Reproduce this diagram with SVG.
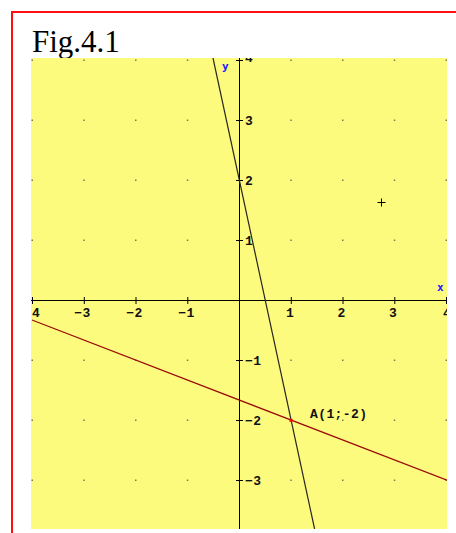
<svg xmlns="http://www.w3.org/2000/svg" width="456" height="533" viewBox="0 0 456 533">
<style>
.dot{fill:#7a7a5a}
.ax{stroke:#000;stroke-width:1;fill:none}
.lbl{font-family:"Liberation Mono","DejaVu Sans Mono",monospace;font-weight:bold;font-size:13px;fill:#111;letter-spacing:0.4px}
.axn{font-family:"DejaVu Sans Mono","Liberation Mono",monospace;font-weight:bold;font-size:11px;fill:#1a1aff}
</style>
<defs>
<clipPath id="plot"><rect x="31" y="58" width="416" height="471"/></clipPath>
</defs>
<rect width="456" height="533" fill="#fff"/>
<g id="frame">
<line x1="11" y1="12" x2="456" y2="12" stroke="#ff1010" stroke-width="2"/>
<line x1="12" y1="11" x2="12" y2="533" stroke="#ff1010" stroke-width="2"/>
</g>
<text id="title" x="32" y="52" font-family="Liberation Serif, serif" font-size="31" fill="#000">Fig.4.1</text>
<g id="plotarea" clip-path="url(#plot)">
<rect x="31" y="58" width="416" height="471" fill="#fdfb7d"/>
<g id="grid">
<g class="dot">
<rect x="31.5" y="59.5" width="1.5" height="1.5"/><rect x="83.3" y="59.5" width="1.5" height="1.5"/><rect x="135" y="59.5" width="1.5" height="1.5"/><rect x="186.8" y="59.5" width="1.5" height="1.5"/><rect x="290.3" y="59.5" width="1.5" height="1.5"/><rect x="342" y="59.5" width="1.5" height="1.5"/><rect x="393.8" y="59.5" width="1.5" height="1.5"/><rect x="445.5" y="59.5" width="1.5" height="1.5"/>
<rect x="31.5" y="119.5" width="1.5" height="1.5"/><rect x="83.3" y="119.5" width="1.5" height="1.5"/><rect x="135" y="119.5" width="1.5" height="1.5"/><rect x="186.8" y="119.5" width="1.5" height="1.5"/><rect x="290.3" y="119.5" width="1.5" height="1.5"/><rect x="342" y="119.5" width="1.5" height="1.5"/><rect x="393.8" y="119.5" width="1.5" height="1.5"/><rect x="445.5" y="119.5" width="1.5" height="1.5"/>
<rect x="31.5" y="179.5" width="1.5" height="1.5"/><rect x="83.3" y="179.5" width="1.5" height="1.5"/><rect x="135" y="179.5" width="1.5" height="1.5"/><rect x="186.8" y="179.5" width="1.5" height="1.5"/><rect x="290.3" y="179.5" width="1.5" height="1.5"/><rect x="342" y="179.5" width="1.5" height="1.5"/><rect x="393.8" y="179.5" width="1.5" height="1.5"/><rect x="445.5" y="179.5" width="1.5" height="1.5"/>
<rect x="31.5" y="239.5" width="1.5" height="1.5"/><rect x="83.3" y="239.5" width="1.5" height="1.5"/><rect x="135" y="239.5" width="1.5" height="1.5"/><rect x="186.8" y="239.5" width="1.5" height="1.5"/><rect x="290.3" y="239.5" width="1.5" height="1.5"/><rect x="342" y="239.5" width="1.5" height="1.5"/><rect x="393.8" y="239.5" width="1.5" height="1.5"/><rect x="445.5" y="239.5" width="1.5" height="1.5"/>
<rect x="31.5" y="359.5" width="1.5" height="1.5"/><rect x="83.3" y="359.5" width="1.5" height="1.5"/><rect x="135" y="359.5" width="1.5" height="1.5"/><rect x="186.8" y="359.5" width="1.5" height="1.5"/><rect x="290.3" y="359.5" width="1.5" height="1.5"/><rect x="342" y="359.5" width="1.5" height="1.5"/><rect x="393.8" y="359.5" width="1.5" height="1.5"/><rect x="445.5" y="359.5" width="1.5" height="1.5"/>
<rect x="31.5" y="419.5" width="1.5" height="1.5"/><rect x="83.3" y="419.5" width="1.5" height="1.5"/><rect x="135" y="419.5" width="1.5" height="1.5"/><rect x="186.8" y="419.5" width="1.5" height="1.5"/><rect x="342" y="419.5" width="1.5" height="1.5"/><rect x="393.8" y="419.5" width="1.5" height="1.5"/><rect x="445.5" y="419.5" width="1.5" height="1.5"/>
<rect x="31.5" y="479.5" width="1.5" height="1.5"/><rect x="83.3" y="479.5" width="1.5" height="1.5"/><rect x="135" y="479.5" width="1.5" height="1.5"/><rect x="186.8" y="479.5" width="1.5" height="1.5"/><rect x="290.3" y="479.5" width="1.5" height="1.5"/><rect x="342" y="479.5" width="1.5" height="1.5"/><rect x="393.8" y="479.5" width="1.5" height="1.5"/><rect x="445.5" y="479.5" width="1.5" height="1.5"/>
</g>
</g>
<g id="axes">
<line class="ax" x1="31" y1="300.5" x2="447" y2="300.5"/>
<line class="ax" x1="239.5" y1="58" x2="239.5" y2="529"/>
<path class="ax" d="M32.5 297v7M84.3 297v7M136 297v7M187.8 297v7M291.3 297v7M343 297v7M394.8 297v7M446.5 297v7"/>
<path class="ax" d="M236 60.5h7M236 120.5h7M236 180.5h7M236 240.5h7M236 360.5h7M236 420.5h7M236 480.5h7"/>
</g>
<g id="xlabels" class="lbl">
<text x="32" y="317">4</text>
<text x="82.5" y="317" text-anchor="middle">−3</text>
<text x="134.5" y="317" text-anchor="middle">−2</text>
<text x="186.5" y="317" text-anchor="middle">−1</text>
<text x="290" y="317" text-anchor="middle">1</text>
<text x="341.5" y="317" text-anchor="middle">2</text>
<text x="393" y="317" text-anchor="middle">3</text>
<text x="447" y="317" text-anchor="middle">4</text>
</g>
<g id="ylabels" class="lbl">
<text x="245" y="62">4</text>
<text x="245" y="124.5">3</text>
<text x="245" y="184.5">2</text>
<text x="245" y="244.5">1</text>
<text x="245" y="364.5">−1</text>
<text x="245" y="424.5">−2</text>
<text x="245" y="484.5">−3</text>
</g>
<text id="xname" class="axn" x="437" y="291">x</text>
<text id="yname" class="axn" x="222" y="70">y</text>
<g id="lines">
<line id="line1" x1="213" y1="58" x2="314.6" y2="529" stroke="#262620" stroke-width="1.2"/>
<line id="line2" x1="32" y1="320" x2="447" y2="480.2" stroke="#9a0a0a" stroke-width="1.3"/>
</g>
<g id="pointA">
<rect x="289.5" y="418.8" width="3" height="3" fill="#ff0000"/>
<text class="lbl" x="310" y="418">A(1;-2)</text>
</g>
<path id="cross" d="M377.5 202.5h8M381.5 198.5v8" stroke="#000" stroke-width="1" fill="none"/>
</g>
</svg>
